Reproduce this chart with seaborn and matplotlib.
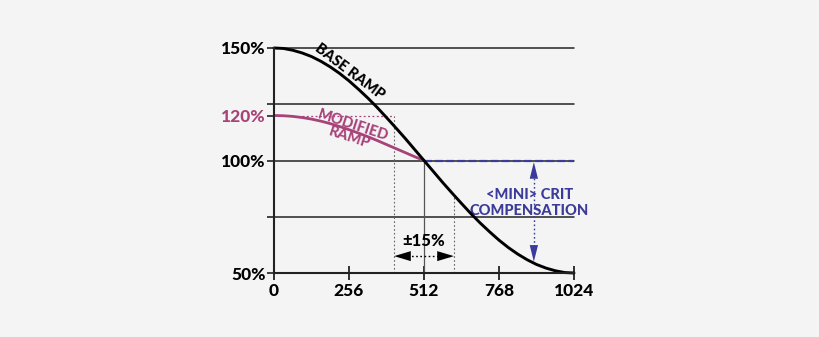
import matplotlib
matplotlib.use("Agg")
import matplotlib.pyplot as plt
import seaborn as sns
import pandas as pd

# ---- data ----
base_x = [0, 32, 64, 96, 128, 160, 192, 224, 256, 288, 320, 352, 384, 416, 448, 480,
          512, 544, 576, 608, 640, 672, 704, 736, 768, 800, 832, 864, 896, 928, 960, 992, 1024]
base_y = [150, 149.8, 149.0, 147.8, 146.2, 144.1, 141.6, 138.7, 135.4, 131.7, 127.8, 123.6,
          119.1, 114.5, 109.8, 104.9, 100, 95.1, 90.2, 85.5, 80.9, 76.4, 72.2, 68.3, 64.6,
          61.3, 58.4, 55.9, 53.8, 52.2, 51.0, 50.2, 50]
mod_x = [0, 32, 64, 96, 128, 160, 192, 224, 256, 288, 320, 352, 384, 416, 448, 480, 512]
mod_y = [120, 119.9, 119.6, 119.1, 118.4, 117.5, 116.4, 115.1, 113.7, 112.2, 110.6,
         108.9, 107.1, 105.3, 103.5, 101.7, 100]
comp_x = [512, 1024]
comp_y = [100, 100]
x_ticks = [0, 256, 512, 768, 1024]
x_tick_labels = ["0", "256", "512", "768", "1024"]
y_ticks = [50, 75, 100, 120, 125, 150]
y_tick_labels = ["50%", "", "100%", "120%", "", "150%"]
grid_levels = [75, 100, 125, 150]

BG = "#f4f4f4"
PINK = "#a8437a"
BLUE = "#3b3b9a"
DARK = "#222222"
W = "black"  # font weight

sns.set_theme(style="white")
plt.rcParams["font.family"] = ["Lato", "DejaVu Sans"]

fig = plt.figure(figsize=(8.2, 3.37), dpi=100, facecolor=BG)
ax = fig.add_axes([274 / 820, 1 - 273 / 337, 300 / 820, 225 / 337])
ax.set_facecolor(BG)

# grid lines
for g in grid_levels:
    ax.axhline(g, color=DARK, lw=1.1, zorder=1, clip_on=False)

# helper guide lines
ax.plot([512, 512], [50, 100], color="#555555", lw=0.9, zorder=1)
ax.plot([410, 410], [50, 120], color="#666666", lw=0.8, ls=(0, (1.5, 2)), zorder=1)
ax.plot([614, 614], [50, 84.5], color="#666666", lw=0.8, ls=(0, (1.5, 2)), zorder=1)
ax.plot([95, 410], [120, 120], color=PINK, lw=0.9, ls=(0, (1.5, 2)), zorder=1)

# curves
df_base = pd.DataFrame({"x": base_x, "y": base_y})
df_mod = pd.DataFrame({"x": mod_x, "y": mod_y})
df_comp = pd.DataFrame({"x": comp_x, "y": comp_y})
sns.lineplot(data=df_base, x="x", y="y", ax=ax, color="black", lw=2.1, zorder=4)
sns.lineplot(data=df_mod, x="x", y="y", ax=ax, color=PINK, lw=2.0, zorder=3)
sns.lineplot(data=df_comp, x="x", y="y", ax=ax, color=BLUE, lw=1.6,
             linestyle=(0, (3.5, 1.5)), zorder=3)
for l in ax.lines:
    l.set_clip_on(False)

# +-15% arrow
ax.plot([425, 600], [57.5, 57.5], color="black", lw=1.0, ls=(0, (1.2, 1.8)), zorder=2)
for tip, start in [(410, 452), (614, 572)]:
    ax.annotate("", xy=(tip, 57.5), xytext=(start, 57.5),
                arrowprops=dict(arrowstyle="-|>,head_length=1.0,head_width=0.3",
                                color="black", lw=0, shrinkA=0, shrinkB=0))
ax.text(512, 64, "±15%", ha="center", va="center", fontsize=12,
        fontweight=W, color="black")

# compensation arrow
ax.plot([887, 887], [94, 61], color=BLUE, lw=1.0, ls=(0, (1.2, 1.8)), zorder=2)
for tip, start in [(99.3, 90), (55, 64)]:
    ax.annotate("", xy=(887, tip), xytext=(887, start),
                arrowprops=dict(arrowstyle="-|>,head_length=1.0,head_width=0.25",
                                color=BLUE, lw=0, shrinkA=0, shrinkB=0))
ax.text(872, 84.5, "<MINI> CRIT", ha="center", va="center", fontsize=10.5,
        fontweight=W, color=BLUE)
ax.text(870, 77.5, "COMPENSATION", ha="center", va="center", fontsize=10.5,
        fontweight=W, color=BLUE)

# curve labels
ax.text(256, 139.5, "BASE RAMP", ha="center", va="center", fontsize=10.5,
        fontweight=W, color="black", rotation=-37, rotation_mode="anchor")
ax.text(271, 115.6, "MODIFIED", ha="center", va="center", fontsize=10.5,
        fontweight=W, color=PINK, rotation=-18, rotation_mode="anchor")
ax.text(258, 110.0, "RAMP", ha="center", va="center", fontsize=10.5,
        fontweight=W, color=PINK, rotation=-18, rotation_mode="anchor")

# axes styling
ax.set_xlim(0, 1024)
ax.set_ylim(50, 150)
ax.set_xlabel("")
ax.set_ylabel("")
for s in ["top", "right"]:
    ax.spines[s].set_visible(False)
for s in ["left", "bottom"]:
    ax.spines[s].set_color(DARK)
    ax.spines[s].set_linewidth(1.5)
    ax.spines[s].set_zorder(5)

ax.set_xticks(x_ticks)
ax.set_xticklabels(x_tick_labels)
ax.set_yticks(y_ticks)
ax.set_yticklabels(y_tick_labels)
ax.tick_params(axis="x", direction="inout", length=10, width=1.3, color=DARK,
               labelsize=12.5, pad=2, bottom=True)
ax.tick_params(axis="y", direction="out", length=5, width=1.2, color=DARK,
               labelsize=12.5, pad=1, left=True)
for lab in ax.get_xticklabels() + ax.get_yticklabels():
    lab.set_fontweight(W)
    lab.set_color("black")
ax.get_yticklabels()[3].set_color(PINK)
ax.yaxis.get_major_ticks()[3].tick1line.set_color(PINK)
ax.grid(False)

fig.savefig("out.png", dpi=100, facecolor=BG)
